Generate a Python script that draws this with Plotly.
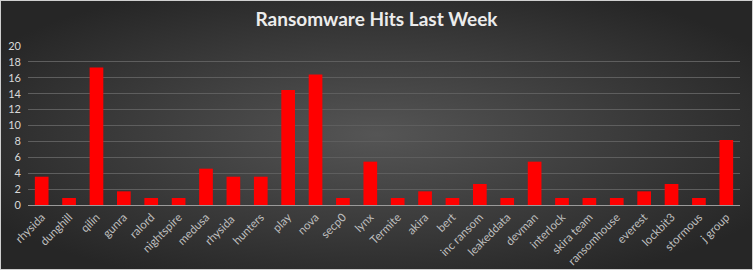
import plotly.graph_objects as go
import urllib.parse

groups = ["rhysida", "dunghill", "qilin", "gunra", "ralord", "nightspire", "medusa",
          "rhysida ", "hunters", "play", "nova", "secp0", "lynx", "Termite", "akira",
          "bert", "inc ransom", "leakeddata", "devman", "interlock", "skira team",
          "ransomhouse", "everest", "lockbit3", "stormous", "j group"]
hits = [3.56, 0.88, 17.3, 1.72, 0.88, 0.88, 4.57, 3.56, 3.56, 14.47, 16.4, 0.88,
        5.45, 0.88, 1.72, 0.88, 2.64, 0.88, 5.45, 0.88, 0.88, 0.88, 1.72, 2.64,
        0.88, 8.18]
y_ticks = list(range(0, 21, 2))

# radial dark-gray backdrop
svg = (
    '<svg xmlns="http://www.w3.org/2000/svg" width="753" height="270" '
    'viewBox="0 0 753 270" preserveAspectRatio="none">'
    '<defs><radialGradient id="g" cx="50%" cy="50%" r="60%">'
    '<stop offset="0%" stop-color="#555555"/>'
    '<stop offset="100%" stop-color="#262626"/>'
    '</radialGradient></defs>'
    '<rect width="753" height="270" fill="url(#g)"/>'
    '<rect x="0.5" y="0.5" width="752" height="269" fill="none" stroke="#d0d0d0" stroke-width="1"/>'
    '</svg>'
)
bg_src = "data:image/svg+xml;charset=utf-8," + urllib.parse.quote(svg)

fig = go.Figure(
    go.Bar(
        x=groups,
        y=hits,
        marker=dict(color="#ff0000", line=dict(width=0)),
        width=0.5,
    )
)

fig.update_layout(
    width=753,
    height=270,
    margin=dict(l=28, r=13, t=46, b=65),
    paper_bgcolor="#2b2b2b",
    plot_bgcolor="rgba(0,0,0,0)",
    images=[dict(source=bg_src, xref="paper", yref="paper", x=-28 / 712, y=1 + 46 / 159,
                 sizex=753 / 712, sizey=270 / 159, xanchor="left", yanchor="top",
                 sizing="stretch", layer="below")],
    title=dict(text="<b>Ransomware Hits Last Week</b>", x=0.5, xanchor="center",
               y=0.93, yanchor="middle",
               font=dict(family="Lato, Open Sans, sans-serif", size=19, color="#ececec")),
    showlegend=False,
    bargap=0.5,
)

fig.update_xaxes(
    tickangle=-45,
    tickfont=dict(family="Lato, Open Sans, sans-serif", size=11.5, color="#bfbfbf"),
    showgrid=False,
    showline=True,
    linecolor="#9a9a9a",
    linewidth=1,
    ticks="",
    automargin=False,
    fixedrange=True,
)
fig.update_yaxes(
    range=[0, 20],
    tickvals=y_ticks,
    tickfont=dict(family="Lato, Open Sans, sans-serif", size=11, color="#d9d9d9"),
    showgrid=True,
    gridcolor="#5e5e5e",
    gridwidth=1,
    zeroline=False,
    showline=False,
    ticks="",
    ticklabelstandoff=6,
    automargin=False,
    fixedrange=True,
)

fig.write_html("out.html")
